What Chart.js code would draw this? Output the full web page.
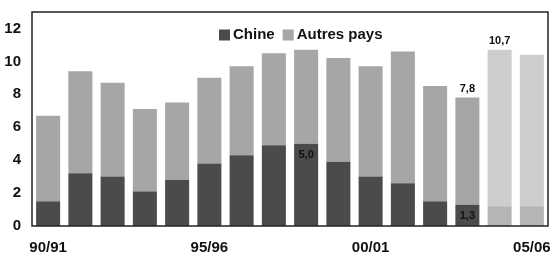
<!DOCTYPE html>
<html>
<head>
<meta charset="utf-8">
<script src="https://cdn.jsdelivr.net/npm/chart.js@4/dist/chart.umd.min.js"></script>
<style>
  html, body { margin: 0; padding: 0; background: #fff; }
  #wrap { width: 554px; height: 257px; }
</style>
</head>
<body>
<div id="wrap"><canvas id="chart" width="554" height="257"></canvas></div>
<script>
const seasons = ['90/91', '91/92', '92/93', '93/94', '94/95', '95/96', '96/97', '97/98',
  '98/99', '99/00', '00/01', '01/02', '02/03', '03/04', '04/05', '05/06'];
const shownSeasons = ['90/91', '95/96', '00/01', '05/06'];
const chine = [1.5, 3.2, 3.0, 2.1, 2.8, 3.8, 4.3, 4.9, 5.0, 3.9, 3.0, 2.6, 1.5, 1.3, 1.2, 1.2];
const autresPays = [5.2, 6.2, 5.7, 5.0, 4.7, 5.2, 5.4, 5.6, 5.7, 6.3, 6.7, 8.0, 7.0, 6.5, 9.5, 9.2];
const forecast = [false, false, false, false, false, false, false, false,
  false, false, false, false, false, false, true, true];
const yTicks = [0, 2, 4, 6, 8, 10, 12];

// which values get a label: [index, 'chine' | 'total']
const valueLabels = [[8, 'chine'], [13, 'chine'], [13, 'total'], [14, 'total']];

const FONT = 'Liberation Sans, Arial, sans-serif';
const colors = {
  chine: '#4b4b4b', autres: '#a6a6a6',
  chineForecast: '#b5b5b5', autresForecast: '#cdcdcd'
};

function fmt(v) {
  return v.toFixed(1).replace('.', ',');
}

const framePlugin = {
  id: 'frame',
  afterDatasetsDraw(chart) {
    const { ctx, chartArea: a } = chart;
    ctx.save();
    ctx.strokeStyle = '#222';
    ctx.lineWidth = 1.5;
    ctx.strokeRect(a.left, a.top, a.right - a.left, a.bottom - a.top);

    // value labels
    ctx.font = 'bold 11px ' + FONT;
    ctx.fillStyle = '#111';
    ctx.textAlign = 'center';
    valueLabels.forEach(([i, kind]) => {
      if (kind === 'chine') {
        const bar = chart.getDatasetMeta(0).data[i];
        ctx.textBaseline = 'top';
        ctx.fillText(fmt(chine[i]), bar.x, bar.y + 6);
      } else {
        const bar = chart.getDatasetMeta(1).data[i];
        ctx.textBaseline = 'bottom';
        ctx.fillText(fmt(chine[i] + autresPays[i]), bar.x, bar.y - 3);
      }
    });

    // legend inside the plot
    ctx.font = 'bold 15px ' + FONT;
    ctx.textAlign = 'left';
    ctx.textBaseline = 'middle';
    let x = a.left + 187;
    const y = a.top + 23;
    chart.data.datasets.forEach((ds) => {
      ctx.fillStyle = ds.legendColor;
      ctx.fillRect(x, y - 5.5, 11, 11);
      ctx.fillStyle = '#111';
      ctx.fillText(ds.label, x + 14, y);
      x += 14 + ctx.measureText(ds.label).width + 8;
    });
    ctx.restore();
  }
};

new Chart(document.getElementById('chart'), {
  type: 'bar',
  data: {
    labels: seasons,
    datasets: [
      {
        label: 'Chine',
        data: chine,
        legendColor: colors.chine,
        backgroundColor: (c) => forecast[c.dataIndex] ? colors.chineForecast : colors.chine
      },
      {
        label: 'Autres pays',
        data: autresPays,
        legendColor: colors.autres,
        backgroundColor: (c) => forecast[c.dataIndex] ? colors.autresForecast : colors.autres
      }
    ]
  },
  options: {
    responsive: false,
    animation: false,
    layout: { padding: { top: 12, right: 6, left: 0, bottom: 0 } },
    datasets: {
      bar: { categoryPercentage: 1, barPercentage: 0.745, borderWidth: 0 }
    },
    plugins: {
      legend: { display: false },
      tooltip: { enabled: false }
    },
    scales: {
      x: {
        stacked: true,
        grid: { display: false, drawTicks: false },
        border: { display: false },
        afterFit: (s) => { s.height = 31; s.paddingLeft = 0; s.paddingRight = 0; },
        ticks: {
          autoSkip: false,
          maxRotation: 0,
          padding: 13,
          color: '#111',
          font: { family: FONT, size: 15, weight: 'bold' },
          callback: (v, i) => shownSeasons.includes(seasons[i]) ? seasons[i] : ''
        }
      },
      y: {
        stacked: true,
        min: 0,
        max: 13,
        afterBuildTicks: (s) => { s.ticks = yTicks.map(v => ({ value: v })); },
        afterFit: (s) => { s.width = 32; s.paddingTop = 0; s.paddingBottom = 0; },
        grid: { display: false, drawTicks: false },
        border: { display: false },
        ticks: {
          padding: 11,
          color: '#111',
          font: { family: FONT, size: 15, weight: 'bold' }
        }
      }
    }
  },
  plugins: [framePlugin]
});
</script>
</body>
</html>
